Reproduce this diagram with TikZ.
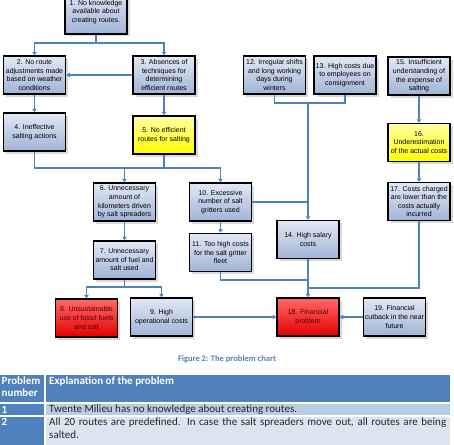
\documentclass[tikz,border=0pt]{standalone}
\usepackage{fontspec}
\setmainfont{Liberation Sans}
\newfontfamily\tabfont{Carlito}
\usetikzlibrary{arrows.meta,shadows}

\definecolor{linkblue}{RGB}{79,129,189}
\definecolor{hdblue}{RGB}{79,129,189}
\definecolor{rowone}{RGB}{184,204,228}
\definecolor{rowtwo}{RGB}{219,229,241}
\definecolor{boxtop}{RGB}{226,232,244}
\definecolor{boxbot}{RGB}{160,180,214}
\definecolor{redtop}{RGB}{255,105,105}
\definecolor{redbot}{RGB}{228,0,0}
\definecolor{redtxt}{RGB}{90,0,0}

\begin{document}
\begin{tikzpicture}[x=1pt,y=-1pt,
    prob/.style={draw=black, line width=1.5pt, minimum width=62pt, minimum height=38pt,
      inner sep=1pt, align=center, font=\fontsize{7}{8.6}\selectfont,
      top color=boxtop, bottom color=boxbot,
      drop shadow={shadow xshift=2.5pt, shadow yshift=-2.5pt, fill=black, opacity=0.15}},
    warn/.style={prob, top color=yellow!35, bottom color=yellow},
    hot/.style={prob, top color=redtop, bottom color=redbot, text=redtxt},
    link/.style={draw=linkblue, line width=1.1pt},
    arr/.style={link, -{Triangle[width=4.5pt,length=3.5pt]}},
    cell/.style={font=\tabfont\fontsize{11}{13}\selectfont, inner sep=0pt, text=black!85},
    headcell/.style={cell, font=\tabfont\bfseries\fontsize{11}{12}\selectfont, text=white}]
    \useasboundingbox (0,0) rectangle (454,444);

    % problem boxes, top row
    \node[prob, minimum height=44pt] (b1) at (96,12) {1. No knowledge\\available about\\creating routes.};
    \node[prob] (b2) at (34.5,75) {2. No route\\adjustments made\\based on weather\\conditions};
    \node[prob] (b3) at (164,75) {3. Absences of\\techniques for\\determining\\efficient routes};
    \node[prob] (b12) at (274.5,75) {12. Irregular shifts\\and long working\\days during\\winters};
    \node[prob] (b13) at (345,75) {13. High costs due\\to employees on\\consignment};
    \node[prob] (b15) at (419,76) {15. Insufficient\\understanding of\\the expense of\\salting};

    % second level
    \node[prob] (b4) at (34.5,132) {4. Ineffective\\salting actions};
    \node[warn] (b5) at (164,135) {5. No efficient\\routes for salting};
    \node[warn] (b16) at (419,142.5) {16.\\Underestimation\\of the actual costs};

    % middle
    \node[prob] (b6) at (124.5,202) {6. Unnecessary\\amount of\\kilometers driven\\by salt spreaders};
    \node[prob] (b10) at (220.5,202) {10. Excessive\\number of salt\\gritters used};
    \node[prob] (b17) at (419,201.5) {17. Costs charged\\are lower than the\\costs actually\\incurred};
    \node[prob] (b14) at (308,239.5) {14. High salary\\costs};
    \node[prob] (b11) at (220.5,252.5) {11. Too high costs\\for the salt gritter\\fleet};
    \node[prob] (b7) at (124.5,260) {7. Unnecessary\\amount of fuel and\\salt used};

    % bottom row
    \node[hot] (b8) at (86.5,318) {8. Unsustainable\\use of fossil fuels\\and salt};
    \node[prob] (b9) at (161.5,317) {9. High\\operational costs};
    \node[hot] (b18) at (308,317) {18. Financial\\problem};
    \node[prob] (b19) at (394.5,317) {19. Financial\\cutback in the near\\future};

    % junctions
    \coordinate (j1) at (96,43);
    \coordinate (j2) at (124.5,168);
    \coordinate (j3) at (124.5,287);
    \coordinate (j4) at (308,103);
    \coordinate (j5) at (308,280);
    \coordinate (j6) at (308,288);

    % connectors
    \draw[link] (b1.south) -- (j1);
    \draw[arr] (j1) -| (b2.north);
    \draw[arr] (j1) -| (b3.north);
    \draw[arr] (b3.west) -- (b2.east);
    \draw[arr] (b2) -- (b4);
    \draw[arr] (b3) -- (b5);
    \draw[link] (b4.south) |- (b5.south |- j2) -- (b5.south);
    \draw[arr] (j2) -- (b6.north);
    \draw[arr] (b5.south |- j2) -| (b10.north);
    \draw[arr] (b6) -- (b7);
    \draw[link] (b7.south) -- (j3);
    \draw[arr] (j3) -| (b8.north);
    \draw[arr] (j3) -| (b9.north);
    \draw[arr] (b10) -- (b11);
    \draw[link] (b12.south) |- (b13.south |- j4) -- (b13.south);
    \draw[arr] (j4) -- (b14.north);
    \draw[link] (b10.east) -- (b10.east -| j4);
    \draw[link] (b11.south) |- (j5);
    \draw[link] (b17.south) |- (j6);
    \draw[arr] (b14.south) -- (b18.north);
    \draw[arr] (b9.east) -- (b18.west);
    \draw[arr] (b19.west) -- (b18.east);
    \draw[arr] (b15) -- (b16);
    \draw[arr] (b16) -- (b17);

    % caption
    \node[font=\tabfont\bfseries\fontsize{8.5}{10}\selectfont, text=linkblue] (cap) at (227,359) {Figure 2: The problem chart};

    % table
    \fill[hdblue] (0,375) rectangle (44,402);
    \fill[hdblue] (45.5,375) rectangle (450,402);
    \fill[hdblue] (0,403.5) rectangle (44,415);
    \fill[rowone] (45.5,403.5) rectangle (450,415);
    \fill[hdblue] (0,416.5) rectangle (44,450);
    \fill[rowtwo] (45.5,416.5) rectangle (450,450);
    \node[headcell, anchor=north west, align=left] (th1) at (1.5,377) {Problem\\number};
    \node[headcell, anchor=north west] (th2) at (49,377) {Explanation of the problem};
    \node[headcell, anchor=west] (tn1) at (1.5,409.5) {1};
    \node[cell, anchor=west] (tx1) at (49,409.5) {Twente Milieu has no knowledge about creating routes.};
    \node[headcell, anchor=north west] (tn2) at (1.5,418) {2};
    \node[cell, anchor=north west, text width=397pt, align=justify] (tx2) at (49,418) {All 20 routes are predefined. In case the salt spreaders move out, all routes are being salted.};
\end{tikzpicture}
\end{document}
